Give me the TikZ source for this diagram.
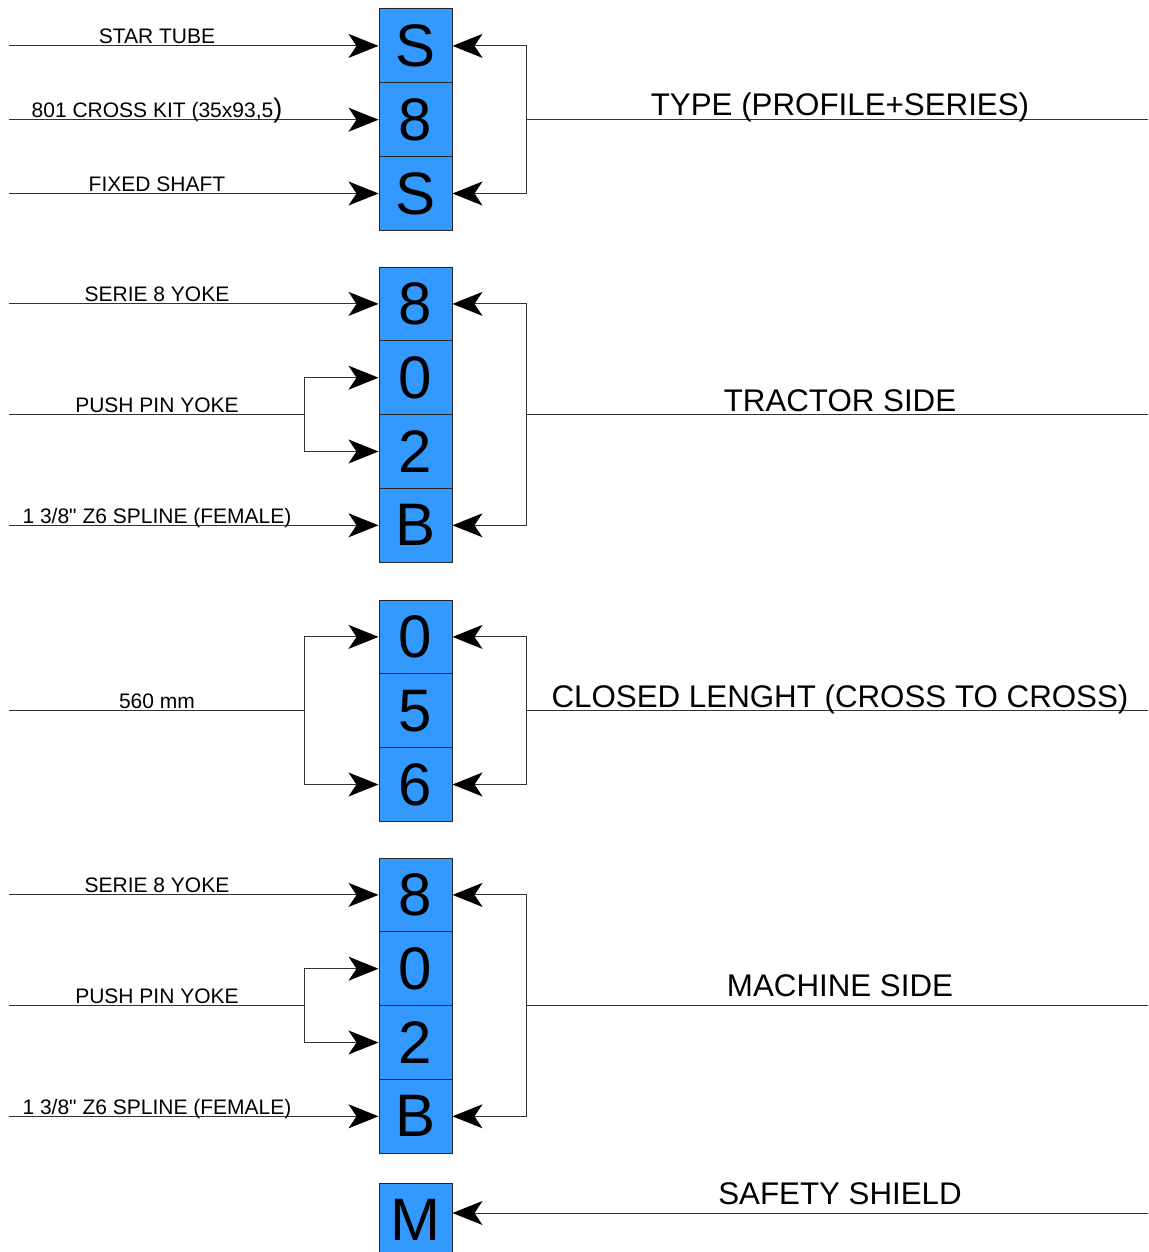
\documentclass[tikz,border=0pt]{standalone}
\usepackage{fontspec}
\setmainfont{Liberation Sans}[Ligatures=TeXOff]
\usetikzlibrary{arrows.meta}
\definecolor{boxblue}{RGB}{51,153,255}
\begin{document}
\begin{tikzpicture}[x=1pt,y=-1pt,
  cell/.style={draw=black!85, fill=boxblue, line width=1pt, minimum width=73pt, minimum height=73.8pt, inner sep=0pt, font=\fontsize{60}{60}\selectfont},
  ln/.style={line width=1pt, draw=black!80},
  arr/.style={ln, -{Stealth[length=30pt,width=24pt,inset=8pt,color=black]}},
  lab/.style={anchor=base, font=\fontsize{21}{21}\selectfont, inner sep=0pt},
  rlab/.style={anchor=base, font=\fontsize{31.3}{31.3}\selectfont, inner sep=0pt}]
\useasboundingbox (0,0) rectangle (1148,1252);

% ---------- group 1 : type ----------
\node[cell] (a1) at (415.5,45.9) {S};
\node[cell] (a2) at (415.5,119.7) {8};
\node[cell] (a3) at (415.5,193.5) {S};
\coordinate (la1) at (9,45.9);
\coordinate (la2) at (9,119.7);
\coordinate (la3) at (9,193.5);
\draw[arr] (la1) -- (a1.west);
\draw[arr] (la2) -- (a2.west);
\draw[arr] (la3) -- (a3.west);
\node[lab] (ta1) at (157,43.5) {STAR TUBE};
\node[lab] (ta2) at (157,117.5) {801 CROSS KIT (35x93,5{\fontsize{27}{27}\selectfont )}};
\node[lab] (ta3) at (157,191.5) {FIXED SHAFT};
\coordinate (ra) at (526,119.7);
\coordinate (rea) at (1148,119.7);
\draw[arr] (ra) |- (a1.east);
\draw[arr] (ra) |- (a3.east);
\draw[ln] (ra) -- (rea);
\node[rlab] (tra) at (840,116) {TYPE (PROFILE+SERIES)};

% ---------- group 2 : tractor side ----------
\node[cell] (b1) at (415.5,303.9) {8};
\node[cell] (b2) at (415.5,377.7) {0};
\node[cell] (b3) at (415.5,451.5) {2};
\node[cell] (b4) at (415.5,525.3) {B};
\coordinate (lb1) at (9,303.9);
\coordinate (lb2) at (9,414.6);
\coordinate (fb) at (304,414.6);
\coordinate (lb4) at (9,525.3);
\draw[arr] (lb1) -- (b1.west);
\draw[ln] (lb2) -- (fb);
\draw[arr] (fb) |- (b2.west);
\draw[arr] (fb) |- (b3.west);
\draw[arr] (lb4) -- (b4.west);
\node[lab] (tb1) at (157,301.5) {SERIE 8 YOKE};
\node[lab] (tb2) at (157,412.5) {PUSH PIN YOKE};
\node[lab] (tb4) at (157,523.5) {1 3/8" Z6 SPLINE (FEMALE)};
\coordinate (rb) at (526,414.6);
\coordinate (reb) at (1148,414.6);
\draw[arr] (rb) |- (b1.east);
\draw[arr] (rb) |- (b4.east);
\draw[ln] (rb) -- (reb);
\node[rlab] (trb) at (840,411.5) {TRACTOR SIDE};

% ---------- group 3 : closed length ----------
\node[cell] (c1) at (415.5,636.9) {0};
\node[cell] (c2) at (415.5,710.7) {5};
\node[cell] (c3) at (415.5,784.5) {6};
\coordinate (lc) at (9,710.7);
\coordinate (fc) at (304,710.7);
\draw[ln] (lc) -- (fc);
\draw[arr] (fc) |- (c1.west);
\draw[arr] (fc) |- (c3.west);
\node[lab] (tc) at (157,708.5) {560 mm};
\coordinate (rc) at (526,710.7);
\coordinate (rec) at (1148,710.7);
\draw[arr] (rc) |- (c1.east);
\draw[arr] (rc) |- (c3.east);
\draw[ln] (rc) -- (rec);
\node[rlab] (trc) at (840,707.5) {CLOSED LENGHT (CROSS TO CROSS)};

% ---------- group 4 : machine side ----------
\node[cell] (d1) at (415.5,894.9) {8};
\node[cell] (d2) at (415.5,968.7) {0};
\node[cell] (d3) at (415.5,1042.5) {2};
\node[cell] (d4) at (415.5,1116.3) {B};
\coordinate (ld1) at (9,894.9);
\coordinate (ld2) at (9,1005.6);
\coordinate (fd) at (304,1005.6);
\coordinate (ld4) at (9,1116.3);
\draw[arr] (ld1) -- (d1.west);
\draw[ln] (ld2) -- (fd);
\draw[arr] (fd) |- (d2.west);
\draw[arr] (fd) |- (d3.west);
\draw[arr] (ld4) -- (d4.west);
\node[lab] (td1) at (157,892.5) {SERIE 8 YOKE};
\node[lab] (td2) at (157,1003.5) {PUSH PIN YOKE};
\node[lab] (td4) at (157,1114.5) {1 3/8" Z6 SPLINE (FEMALE)};
\coordinate (rd) at (526,1005.6);
\coordinate (red) at (1148,1005.6);
\draw[arr] (rd) |- (d1.east);
\draw[arr] (rd) |- (d4.east);
\draw[ln] (rd) -- (red);
\node[rlab] (trd) at (840,996.5) {MACHINE SIDE};

% ---------- safety shield ----------
\node[cell] (m) at (415.5,1219.9) {M};
\coordinate (rm) at (1148,1213);
\draw[arr] (rm) -- (m.east |- rm);
\node[rlab] (trm) at (840,1204) {SAFETY SHIELD};
\end{tikzpicture}
\end{document}
